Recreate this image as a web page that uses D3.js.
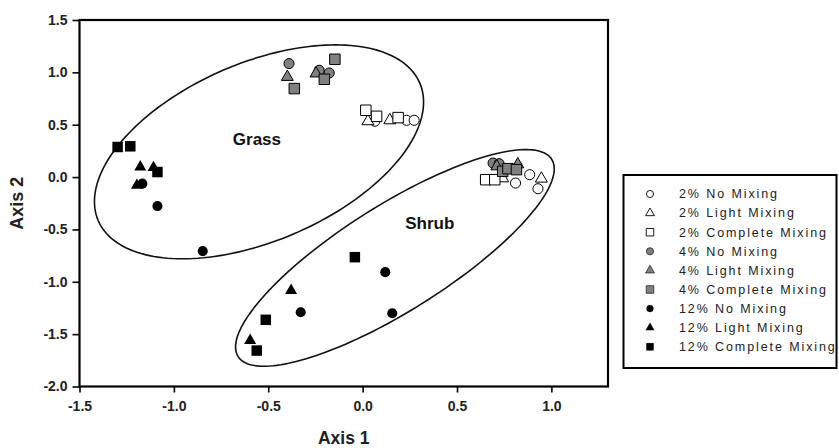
<!DOCTYPE html>
<html>
<head>
<meta charset="utf-8">
<script src="https://cdn.jsdelivr.net/npm/d3@7/dist/d3.min.js"></script>
<style>
  html, body { margin: 0; padding: 0; background: #fff; }
  #chart svg { display: block; font-family: "Liberation Sans", Arial, sans-serif; }
</style>
</head>
<body>
<div id="chart"></div>
<script>
// ordination plot: grass vs shrub samples by fire severity and mixing

const seriesLabels = [
  "2% No Mixing", "2% Light Mixing", "2% Complete Mixing",
  "4% No Mixing", "4% Light Mixing", "4% Complete Mixing",
  "12% No Mixing", "12% Light Mixing", "12% Complete Mixing"
];

// Axis 1 scores per series (grass points first, then shrub)
const seriesAxis1 = [
  [0.065, 0.233, 0.273, 0.810, 0.885, 0.929],
  [0.028, 0.144, 0.947, 0.742],
  [0.017, 0.074, 0.188, 0.652, 0.700],
  [-0.390, -0.230, -0.177, 0.691, 0.723],
  [-0.399, -0.247, 0.711, 0.822],
  [-0.362, -0.147, -0.203, 0.742, 0.770, 0.815],
  [-1.167, -1.087, -0.847, 0.120, -0.328, 0.157],
  [-1.178, -1.108, -1.196, -0.379, -0.596],
  [-1.298, -1.231, -1.087, -0.041, -0.513, -0.561]
];

// Axis 2 scores per series
const seriesAxis2 = [
  [0.533, 0.542, 0.542, -0.057, 0.023, -0.111],
  [0.533, 0.542, -0.015, -0.012],
  [0.638, 0.580, 0.568, -0.025, -0.025],
  [1.084, 1.020, 0.994, 0.134, 0.128],
  [0.956, 0.989, 0.102, 0.121],
  [0.845, 1.125, 0.934, 0.055, 0.080, 0.071],
  [-0.063, -0.277, -0.707, -0.908, -1.291, -1.300],
  [0.096, 0.090, -0.079, -1.083, -1.561],
  [0.287, 0.294, 0.048, -0.765, -1.363, -1.657]
];

// confidence ellipses: centre and half axes in axis units
const groupNames = ["Grass", "Shrub"];
const groupCentres = [[-0.549, 0.241], [0.171, -0.772]];
const groupMajor = [[0.852, 0.656], [0.831, 0.941]];
const groupMinor = [[0.185, -0.783], [0.149, -0.430]];
const groupLabelAt = [[-0.560, 0.303], [0.356, -0.493]];

const xTicks = [-1.5, -1.0, -0.5, 0.0, 0.5, 1.0];
const yTicks = [-2.0, -1.5, -1.0, -0.5, 0.0, 0.5, 1.0, 1.5];
const xDomain = [-1.5, 1.3];
const yDomain = [-2.0, 1.5];

function initOrdinationPlot() {
  const width = 839;
  const height = 448;
  const left = 79.5, right = 608, top = 20, bottom = 386.5;

  const x = d3.scaleLinear().domain(xDomain).range([left, right]);
  const y = d3.scaleLinear().domain(yDomain).range([bottom, top]);

  const fills = ["#ffffff", "#808080", "#000000"];
  const shapes = [d3.symbolCircle, d3.symbolTriangle, d3.symbolSquare];
  const plotSizes = [80, 62, 110];
  const legendSizes = [40, 34, 56];

  const svg = d3.select("#chart")
    .append("svg")
    .attr("width", width)
    .attr("height", height)
    .attr("viewBox", [0, 0, width, height]);

  // axes
  const fmt = function(d) { return d.toFixed(1); };

  const yAxis = svg.append("g")
    .attr("transform", "translate(" + left + ",0)")
    .call(d3.axisLeft(y).tickValues(yTicks).tickFormat(fmt).tickSize(7).tickPadding(5).tickSizeOuter(0));

  const xAxis = svg.append("g")
    .attr("transform", "translate(0," + bottom + ")")
    .call(d3.axisBottom(x).tickValues(xTicks).tickFormat(fmt).tickSize(6).tickPadding(9).tickSizeOuter(0));

  [xAxis, yAxis].forEach(function(g) {
    g.select(".domain").remove();
    g.selectAll(".tick line").attr("stroke", "#000").attr("stroke-width", 1.6);
    g.selectAll(".tick text")
      .attr("fill", "#222")
      .attr("font-size", 14)
      .attr("font-weight", "bold")
      .attr("font-family", "Liberation Sans, Arial, sans-serif");
  });

  svg.append("rect")
    .attr("x", left)
    .attr("y", top)
    .attr("width", right - left)
    .attr("height", bottom - top)
    .attr("fill", "none")
    .attr("stroke", "#000")
    .attr("stroke-width", 2.2);

  svg.append("text")
    .attr("x", (left + right) / 2)
    .attr("y", 444)
    .attr("text-anchor", "middle")
    .attr("font-size", 17.5)
    .attr("font-weight", "bold")
    .attr("fill", "#222")
    .text("Axis 1");

  svg.append("text")
    .attr("transform", "translate(23," + ((top + bottom) / 2) + ") rotate(-90)")
    .attr("text-anchor", "middle")
    .attr("font-size", 18)
    .attr("font-weight", "bold")
    .attr("fill", "#222")
    .text("Axis 2");

  // group ellipses
  const steps = d3.range(0, 361, 2);
  const ellipseLine = d3.line()
    .x(function(p) { return x(p[0]); })
    .y(function(p) { return y(p[1]); });

  groupNames.forEach(function(name, i) {
    const c = groupCentres[i], a = groupMajor[i], b = groupMinor[i];
    const pts = steps.map(function(deg) {
      const t = deg * Math.PI / 180;
      return [
        c[0] + a[0] * Math.cos(t) + b[0] * Math.sin(t),
        c[1] + a[1] * Math.cos(t) + b[1] * Math.sin(t)
      ];
    });
    svg.append("path")
      .attr("d", ellipseLine(pts))
      .attr("fill", "none")
      .attr("stroke", "#111")
      .attr("stroke-width", 1.6);

    svg.append("text")
      .attr("x", x(groupLabelAt[i][0]))
      .attr("y", y(groupLabelAt[i][1]))
      .attr("text-anchor", "middle")
      .attr("font-size", 17)
      .attr("font-weight", "bold")
      .attr("fill", "#111")
      .text(name);
  });

  // points
  seriesLabels.forEach(function(label, s) {
    const level = Math.floor(s / 3);
    const mix = s % 3;
    const pts = d3.zip(seriesAxis1[s], seriesAxis2[s]);
    svg.append("g")
      .selectAll("path")
      .data(pts)
      .join("path")
      .attr("transform", function(d) { return "translate(" + x(d[0]) + "," + y(d[1]) + ")"; })
      .attr("d", d3.symbol().type(shapes[mix]).size(plotSizes[mix]))
      .attr("fill", fills[level])
      .attr("stroke", "#000")
      .attr("stroke-width", level === 2 ? 0 : 1)
      .append("title")
      .text(function(d) { return label + ": " + d[0] + ", " + d[1]; });
  });

  // legend
  const legend = svg.append("g");
  legend.append("rect")
    .attr("x", 623.5)
    .attr("y", 175)
    .attr("width", 213)
    .attr("height", 193)
    .attr("fill", "#fff")
    .attr("stroke", "#000")
    .attr("stroke-width", 2);

  const rows = legend.selectAll("g.row")
    .data(seriesLabels)
    .join("g")
    .attr("class", "row")
    .attr("transform", function(d, i) { return "translate(650," + (194 + i * 19.1) + ")"; });

  rows.append("path")
    .attr("d", function(d, i) { return d3.symbol().type(shapes[i % 3]).size(legendSizes[i % 3])(); })
    .attr("fill", function(d, i) { return fills[Math.floor(i / 3)]; })
    .attr("stroke", function(d, i) { return Math.floor(i / 3) === 1 ? "#333" : "#000"; })
    .attr("stroke-width", function(d, i) { return Math.floor(i / 3) === 2 ? 0 : 0.9; });

  rows.append("text")
    .attr("x", 29)
    .attr("dy", "0.35em")
    .attr("font-size", 12.5)
    .attr("letter-spacing", 1.9)
    .attr("fill", "#222")
    .text(function(d) { return d; });
}

if (document.readyState === "loading") {
  document.addEventListener("DOMContentLoaded", initOrdinationPlot);
} else {
  initOrdinationPlot();
}
</script>
</body>
</html>
